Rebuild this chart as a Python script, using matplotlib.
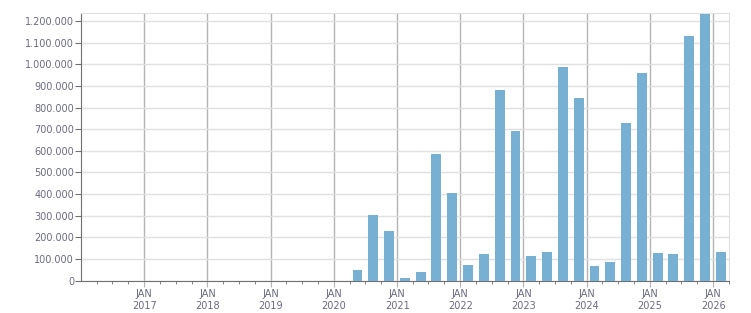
import pandas as pd
import matplotlib
matplotlib.use("Agg")
import matplotlib.pyplot as plt
import matplotlib.dates as mdates
from matplotlib.ticker import FuncFormatter, MultipleLocator

# quarterly values (Q1 2016 .. Q1 2026)
quarters = pd.period_range("2016Q1", "2026Q1", freq="Q")
values = [0] * 17 + [
    50000, 303000, 231000,            # 2020 Q2-Q4
    12000, 40000, 585000, 405000,     # 2021
    72000, 123000, 881000, 692000,    # 2022
    114000, 133000, 987000, 844000,   # 2023
    68000, 86000, 729000, 960000,     # 2024
    128000, 123000, 1131000, 1232000, # 2025
    133000,                           # 2026 Q1
]

mid = quarters.start_time + (quarters.end_time - quarters.start_time) / 2
text_col = "#6b6b80"

fig = plt.figure(figsize=(7.51, 3.13), dpi=100)
ax = fig.add_axes([81 / 751, 1 - 280.7 / 313, (728.7 - 81) / 751, (280.7 - 13) / 313])

ax.bar(mid, values, width=57, color="#78b0d3", zorder=3)

ax.set_xlim(pd.Timestamp("2016-01-01"), pd.Timestamp("2026-04-01"))
ax.set_ylim(0, 1237000)

ax.yaxis.set_major_locator(MultipleLocator(100000))
ax.yaxis.set_major_formatter(FuncFormatter(lambda v, p: f"{int(v):,}".replace(",", ".")))
ax.xaxis.set_major_locator(mdates.YearLocator(month=1, day=1))
ax.xaxis.set_minor_locator(mdates.MonthLocator(bymonth=[4, 7, 10]))
ax.xaxis.set_major_formatter(mdates.DateFormatter("JAN\n%Y"))
ax.set_xticks([d for d in ax.get_xticks() if mdates.num2date(d).year > 2016])

ax.grid(axis="y", color="#e0e0e0", linewidth=1, zorder=0)
ax.grid(axis="x", which="major", color="#b4b4b4", linewidth=1, zorder=1)

for s in ["left", "bottom"]:
    ax.spines[s].set_color("#707070")
for s in ["top", "right"]:
    ax.spines[s].set_color("#e0e0e0")

ax.tick_params(axis="y", colors="#707070", labelcolor=text_col, labelsize=7, length=4, pad=1)
ax.tick_params(axis="x", which="major", colors="#b4b4b4", labelcolor=text_col, labelsize=7, length=4, pad=2)
ax.tick_params(axis="x", which="minor", colors="#707070", length=2)
for lab in ax.get_xticklabels():
    lab.set_linespacing(1.25)

fig.savefig("out.png", dpi=100)
